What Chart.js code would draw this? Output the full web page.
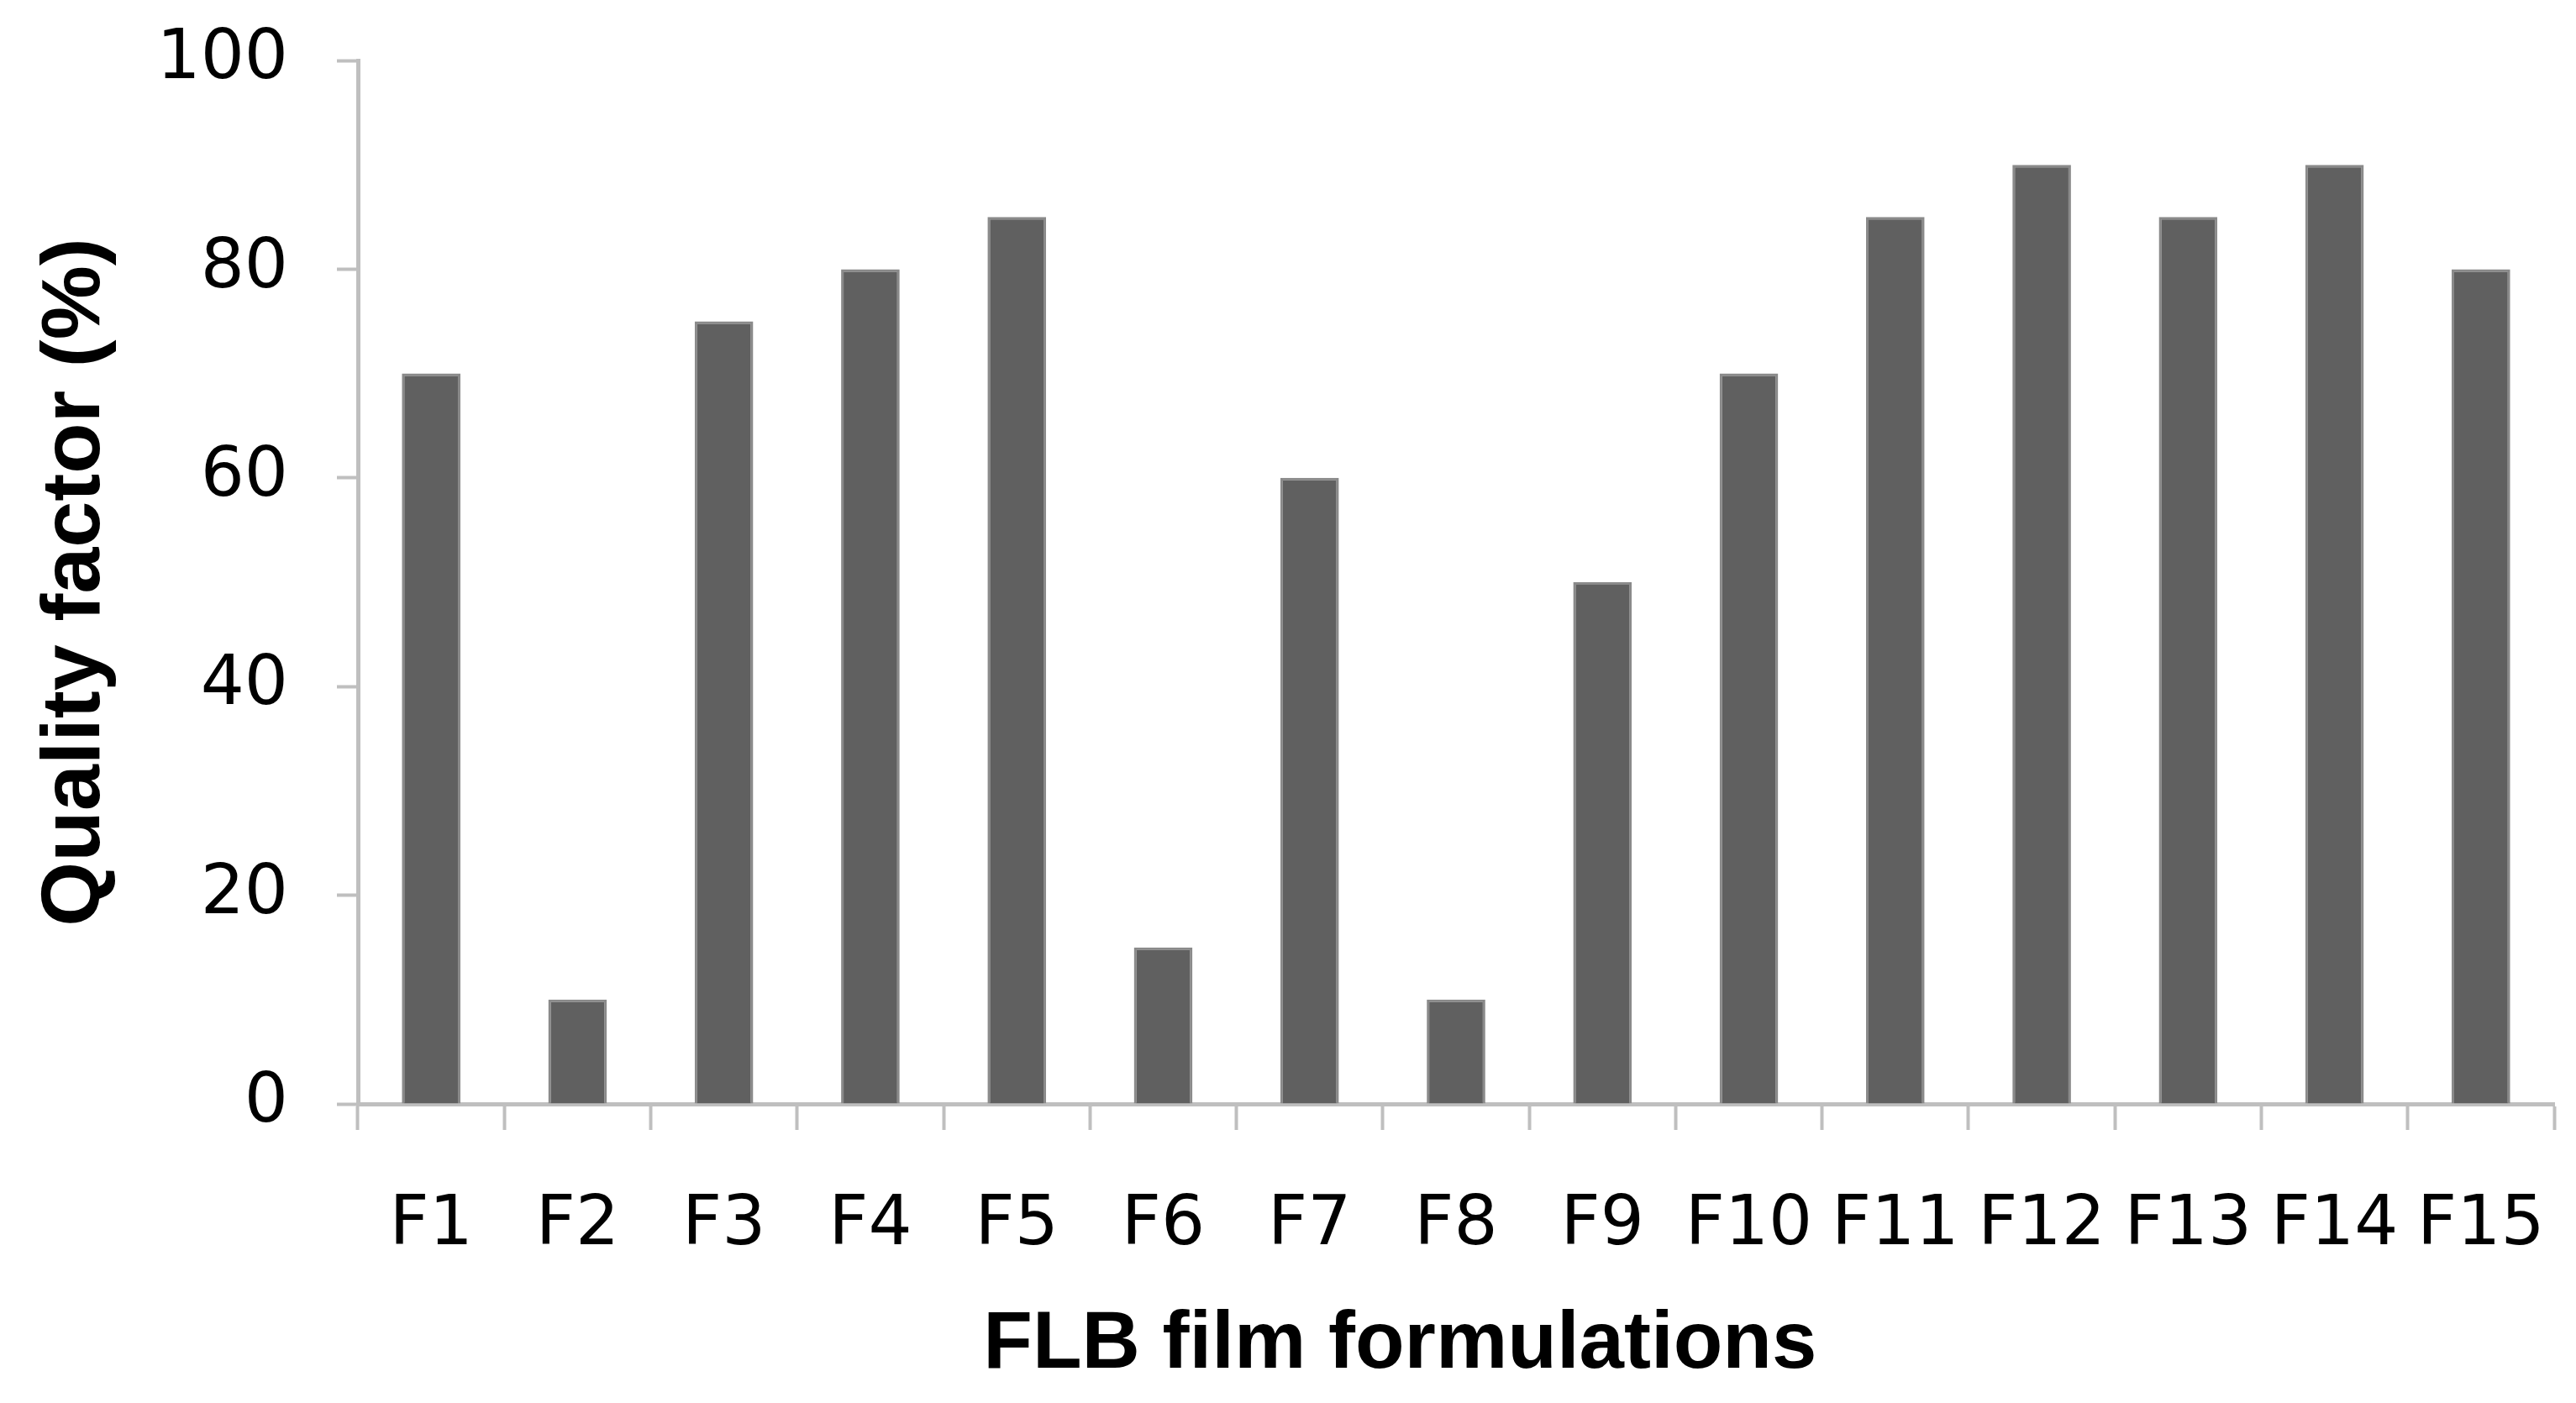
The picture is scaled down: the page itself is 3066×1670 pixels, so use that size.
<!DOCTYPE html>
<html>
<head>
<meta charset="utf-8">
<script src="https://cdn.jsdelivr.net/npm/chart.js@4.4.1/dist/chart.umd.min.js"></script>
<style>
  html, body { margin: 0; padding: 0; background: #fff; }
  #wrap { width: 3066px; height: 1670px; }
</style>
</head>
<body>
<div id="wrap"><canvas id="chart-01" width="3066" height="1670"></canvas></div>
<script>
// Data
const categories = ['F1', 'F2', 'F3', 'F4', 'F5', 'F6', 'F7', 'F8', 'F9', 'F10', 'F11', 'F12', 'F13', 'F14', 'F15'];
const qualityFactor = [70, 10, 75, 80, 85, 15, 60, 10, 50, 70, 85, 90, 85, 90, 80];
const yTicks = [0, 20, 40, 60, 80, 100];

const axisGrey = '#bfbfbf';
const tickFont = { family: 'DejaVu Sans', size: 82 };
const titleFont = { family: 'Liberation Sans', size: 99, weight: 'bold' };

const ctx = document.getElementById('chart-01').getContext('2d');

const myChart = new Chart(ctx, {
    type: 'bar',
    data: {
        labels: categories,
        datasets: [{
            label: 'Quality factor (%)',
            data: qualityFactor,
            backgroundColor: '#606060',
            borderColor: '#8a8a8a',
            borderWidth: 3,
            barPercentage: 1,
            categoryPercentage: 0.4
        }]
    },
    options: {
        responsive: false,
        animation: false,
        layout: { padding: { top: 72, right: 26, bottom: 0, left: 0 } },
        plugins: {
            legend: { display: false },
            tooltip: { enabled: false }
        },
        scales: {
            x: {
                grid: {
                    display: true,
                    drawOnChartArea: false,
                    drawTicks: true,
                    tickLength: 31,
                    tickWidth: 4,
                    tickColor: axisGrey,
                    offset: true
                },
                border: { display: true, color: axisGrey, width: 5 },
                ticks: { color: '#000', font: tickFont, padding: 66, maxRotation: 0, autoSkip: false },
                title: {
                    display: true,
                    text: 'FLB film formulations\u00a0\u00a0\u00a0\u00a0\u00a0',
                    color: '#000',
                    font: { family: 'Liberation Sans', size: 96, weight: 'bold' },
                    padding: { top: 0, bottom: 11 }
                },
                afterFit: (scale) => {
                    scale.height = 356;
                    scale.paddingLeft = 0;
                    scale.paddingRight = 0;
                }
            },
            y: {
                min: 0,
                max: 100,
                afterBuildTicks: (scale) => { scale.ticks = yTicks.map(v => ({ value: v })); },
                grid: {
                    display: true,
                    drawOnChartArea: false,
                    drawTicks: true,
                    tickLength: 25,
                    tickWidth: 4,
                    tickColor: axisGrey
                },
                border: { display: true, color: axisGrey, width: 5 },
                ticks: { color: '#000', font: tickFont, padding: 58 },
                title: {
                    display: true,
                    text: 'Quality factor (%)',
                    color: '#000',
                    font: titleFont,
                    padding: { top: 31, bottom: 0 }
                },
                afterFit: (scale) => {
                    scale.width = 426;
                    scale.paddingTop = 0;
                    scale.paddingBottom = 0;
                }
            }
        }
    }
});
</script>
</body>
</html>
